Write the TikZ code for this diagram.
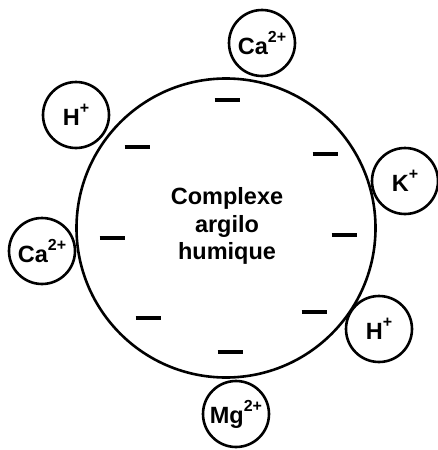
\documentclass[tikz,border=0pt]{standalone}
\usepackage{fontspec}
\setmainfont{Liberation Sans}

% ion label: symbol with raised charge
\newcommand{\ion}[2]{#1\raisebox{12pt}{\fontsize{16}{16}\selectfont #2}}

\begin{document}
\begin{tikzpicture}[x=1pt,y=-1pt,
  complexe/.style={draw,circle,line width=2.6pt,minimum size=299pt,inner sep=0pt},
  cation/.style={draw,circle,line width=2.6pt,fill=white,minimum size=66pt,inner sep=0pt,
    font=\fontsize{23.5}{23.5}\selectfont\bfseries},
  charge/.style={line width=4.2pt}]

% Frame of the picture
\useasboundingbox (0,0) rectangle (437,450);

% Parameters for drawing only
\def\dash{12.5}

% Clay-humus complex
\node[complexe] (cplx) at (226,228) {};
\node[align=center,font=\fontsize{23.5}{27.5}\selectfont\bfseries] (cplxlbl) at (227,226)
{Complexe\\argilo\\humique};

% Negative charges
\draw[charge] (227-\dash,100) -- (227+\dash,100);
\draw[charge] (137-\dash,147) -- (137+\dash,147);
\draw[charge] (325-\dash,154) -- (325+\dash,154);
\draw[charge] (112-\dash,238) -- (112+\dash,238);
\draw[charge] (344-\dash,235) -- (344+\dash,235);
\draw[charge] (148-\dash,318) -- (148+\dash,318);
\draw[charge] (314-\dash,312) -- (314+\dash,312);
\draw[charge] (230-\dash,352) -- (230+\dash,352);

% Adsorbed cations
\node[cation] (caT) at (262,43) {\ion{Ca}{2+}};
\node[cation] (hT)  at (76,115) {\ion{H}{+}};
\node[cation] (kR)  at (405,181) {\ion{K}{+}};
\node[cation] (caL) at (42,251) {\ion{Ca}{2+}};
\node[cation] (hR)  at (379,329) {\ion{H}{+}};
\node[cation] (mgB) at (236,414) {\ion{Mg}{2+}};

\end{tikzpicture}
\end{document}
